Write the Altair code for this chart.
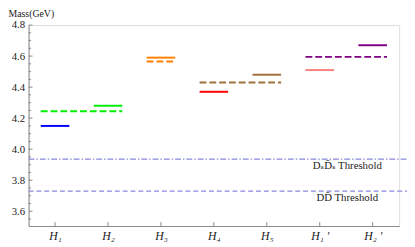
import altair as alt
import pandas as pd
import json

# ---- data ----
states = ["H₁", "H₂", "H₃", "H₄", "H₅", "H₁ '", "H₂ '"]
positions = [1, 2, 3, 4, 5, 6, 7]
solid_mass = [4.15, 4.28, 4.59, 4.37, 4.48, 4.51, 4.67]
solid_color = ["#0000ff", "#00ee00", "#ff8000", "#ff0000", "#a0703c", "#ff8080", "#800080"]

dashed_mass = [4.245, 4.565, 4.43, 4.595]
dashed_from = [1, 3, 4, 6]
dashed_to = [2, 3, 5, 7]
dashed_color = ["#00ee00", "#ff8000", "#a0703c", "#800080"]

thr_labels = ["DₛD̄ₛ Threshold", "DD̄ Threshold"]
thr_mass = [3.936, 3.73]

major_ticks = [3.6, 3.8, 4.0, 4.2, 4.4, 4.6, 4.8]
minor_ticks = [3.55, 3.65, 3.7, 3.75, 3.85, 3.9, 3.95, 4.05, 4.1, 4.15, 4.25, 4.3, 4.35,
               4.45, 4.5, 4.55, 4.65, 4.7, 4.75]

SERIF = "'Liberation Serif', 'Times New Roman', 'DejaVu Serif', serif"
HALF = 0.27
W, H = 378, 205
YDOM = [3.505, 4.80]
XDOM = [0.5, 7.5]

solid_df = pd.DataFrame({
    "x1": [p - HALF for p in positions],
    "x2": [p + HALF for p in positions],
    "m": solid_mass, "c": solid_color,
})
dashed_df = pd.DataFrame({
    "x1": [p - HALF for p in dashed_from],
    "x2": [p + HALF for p in dashed_to],
    "m": dashed_mass, "c": dashed_color,
})

xs = alt.Scale(domain=XDOM, nice=False, zero=False)
ys = alt.Scale(domain=YDOM, nice=False, zero=False)

label_map = {str(p): s for p, s in zip(positions, states)}
label_expr = json.dumps(label_map) + "[datum.value]"

XAX = alt.Axis(
    values=positions, labelExpr=label_expr, title=None, grid=False,
    tickSize=0, domainColor="#888888", labelFont=SERIF, labelOverlap=False,
    labelFontStyle="italic", labelFontSize=12, labelColor="#222222", labelPadding=5)
YAX = alt.Axis(
    values=major_ticks, format=".1f", grid=False, tickSize=0, labelOverlap=False,
    domainColor="#888888", labelFont=SERIF, labelFontSize=11,
    labelColor="#222222", labelPadding=4,
    title="Mass(GeV)", titleAngle=0, titleAlign="left", titleBaseline="middle",
    titleX=-21, titleY=-11.5, titleFont=SERIF, titleFontSize=10,
    titleFontWeight="normal", titleColor="#222222")

NOX = dict(scale=xs, axis=XAX)
NOY = dict(scale=ys, axis=YAX)

solid = alt.Chart(solid_df).mark_rule(strokeWidth=2).encode(
    x=alt.X("x1:Q", **NOX), x2="x2:Q", y=alt.Y("m:Q", **NOY),
    color=alt.Color("c:N", scale=None),
)
dashed = alt.Chart(dashed_df).mark_rule(strokeWidth=2, strokeDash=[7, 3]).encode(
    x=alt.X("x1:Q", **NOX), x2="x2:Q", y=alt.Y("m:Q", **NOY),
    color=alt.Color("c:N", scale=None),
)

thr_df = pd.DataFrame({"lab": thr_labels, "m": thr_mass, "xt": [6.52, 6.52]})
thr1 = alt.Chart(thr_df.iloc[[0]]).mark_rule(strokeWidth=1.2, color="#8888dd",
                                            strokeDash=[6, 2, 1.5, 2]).encode(
    y=alt.Y("m:Q", **NOY), x=alt.value(0), x2=alt.value(W + 8))
thr2 = alt.Chart(thr_df.iloc[[1]]).mark_rule(strokeWidth=1.2, color="#8888dd",
                                            strokeDash=[5, 3]).encode(
    y=alt.Y("m:Q", **NOY), x=alt.value(0), x2=alt.value(W + 8))
thr_text = alt.Chart(thr_df).mark_text(font=SERIF, fontSize=11,
                                       color="#222222", baseline="middle", dy=7).encode(
    x=alt.X("xt:Q", **NOX), y=alt.Y("m:Q", **NOY), text="lab:N")

maj_df = pd.DataFrame({"t": major_ticks})
min_df = pd.DataFrame({"t": minor_ticks})
ymaj = alt.Chart(maj_df).mark_rule(color="#888888").encode(
    y=alt.Y("t:Q", **NOY), x=alt.value(0), x2=alt.value(4))
ymin = alt.Chart(min_df).mark_rule(color="#888888").encode(
    y=alt.Y("t:Q", **NOY), x=alt.value(0), x2=alt.value(2.5))
xt_df = pd.DataFrame({"p": positions})
xtick = alt.Chart(xt_df).mark_rule(color="#888888").encode(
    x=alt.X("p:Q", **NOX), y=alt.value(H), y2=alt.value(H - 4))

chart = alt.layer(thr1, thr2, thr_text, solid, dashed, ymaj, ymin, xtick).properties(
    width=W, height=H, autosize="none",
    padding={"left": 21, "top": 15, "right": 8, "bottom": 19},
).configure_view(stroke=None).configure(background="white")

chart.save("out.html", embed_options={"renderer": "svg", "actions": False})
